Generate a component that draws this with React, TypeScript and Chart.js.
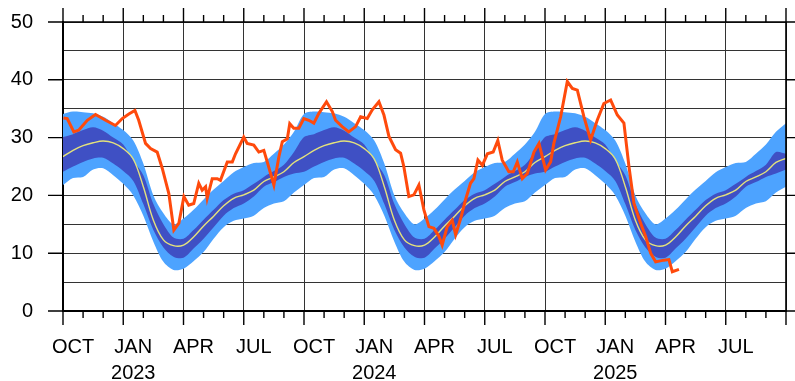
import React, { useEffect, useRef } from "react";
import { Chart, registerables } from "chart.js";

Chart.register(...registerables);

// Climatology for one Oct–Sep year, sampled every half month (months since 1 Oct)
const CLIM_MONTHS = [0, 0.5, 1, 1.5, 2, 2.5, 3, 3.5, 4, 4.5, 5, 5.5, 6, 6.5, 7, 7.5, 8, 8.5, 9, 9.5, 10, 10.5, 11, 11.5];
const OUTER_HI = [34.1, 34.5, 34.4, 34.2, 33.6, 32.5, 31.3, 29.5, 25.5, 20.0, 16.9, 15.0, 16.0, 17.5, 19.3, 21.0, 22.5, 24.0, 24.9, 25.6, 25.8, 27.2, 28.8, 31.0];
const INNER_HI = [30.1, 30.6, 31.3, 31.8, 31.2, 30.0, 28.8, 26.0, 23.5, 18.5, 15.0, 12.7, 12.5, 14.0, 15.8, 17.5, 19.2, 20.3, 20.9, 22.0, 23.2, 24.2, 25.3, 27.5];
const MEDIAN = [26.7, 27.8, 28.6, 29.1, 29.4, 29.1, 28.1, 26.3, 21.5, 15.7, 12.3, 11.3, 11.4, 12.8, 14.7, 16.4, 18.2, 19.5, 20.1, 20.9, 22.4, 23.2, 24.1, 25.7];
const INNER_LO = [24.1, 25.0, 25.8, 26.4, 26.5, 25.5, 24.2, 22.5, 18.5, 14.0, 11.0, 9.4, 9.2, 10.8, 12.5, 14.5, 16.5, 17.8, 18.6, 19.8, 21.5, 22.3, 23.2, 23.8];
const OUTER_LO = [21.8, 23.0, 23.2, 24.5, 24.7, 23.5, 22.0, 20.0, 16.5, 12.0, 8.5, 7.1, 7.3, 8.6, 10.2, 12.5, 14.5, 15.6, 16.0, 16.5, 17.8, 18.6, 19.0, 20.5];
// values at the right end of the chart (1 Oct 2025)
const END_MONTH = 36;
const END_CLIM = { outerHi: 32.5, innerHi: 27.2, median: 26.4, innerLo: 24.5, outerLo: 21.5 };
const YEARS_SHOWN = 3;

// Observed series (months since 1 Oct 2022)
const OBS_MONTH = [
  0.02, 0.21, 0.54, 0.79, 1.21, 1.62, 2.12, 2.61, 2.95, 3.28, 3.58, 3.77, 4.11, 4.36, 4.69, 4.94, 5.27, 5.52, 5.77,
  6.02, 6.26, 6.51, 6.76, 6.93, 7.1, 7.18, 7.43, 7.68, 7.84, 8.18, 8.43, 8.59, 9.0, 9.17, 9.5, 9.75, 10.0, 10.17,
  10.5, 10.75, 10.92, 11.17, 11.29, 11.49, 11.74, 11.99, 12.24, 12.49, 12.74, 13.12, 13.41, 13.57, 13.9, 14.23,
  14.57, 14.82, 15.15, 15.4, 15.73, 15.98, 16.23, 16.56, 16.81, 16.97, 17.22, 17.47, 17.72, 17.97, 18.22, 18.47,
  18.72, 18.88, 19.13, 19.38, 19.55, 19.8, 20.04, 20.29, 20.46, 20.66, 20.88, 21.13, 21.42, 21.65, 21.87, 22.2,
  22.42, 22.62, 22.87, 23.12, 23.45, 23.7, 24.03, 24.28, 24.44, 24.78, 25.11, 25.36, 25.61, 25.94, 26.27, 26.6,
  26.93, 27.27, 27.6, 27.93, 28.18, 28.43, 28.76, 29.01, 29.26, 29.51, 29.92, 30.17, 30.34, 30.67,
];
const OBS_VALUE = [
  33.4, 33.3, 31.0, 31.3, 33.0, 34.0, 33.0, 32.1, 33.3, 34.1, 34.7, 33.0, 29.0, 28.1, 27.5, 24.7, 20.3, 14.0, 15.2,
  19.8, 18.3, 18.6, 22.1, 20.9, 21.5, 19.5, 22.9, 22.9, 22.6, 25.8, 25.8, 27.2, 30.1, 29.0, 28.7, 27.5, 27.8, 25.8,
  21.8, 26.7, 29.3, 29.8, 32.4, 31.6, 31.6, 33.3, 33.0, 32.5, 34.2, 36.2, 34.5, 33.0, 31.9, 31.0,
  31.9, 33.6, 33.3, 34.8, 36.2, 33.9, 30.2, 27.9, 27.3, 25.0, 19.8, 20.1, 21.8, 17.5, 14.6, 14.3,
  12.9, 11.4, 14.6, 15.7, 13.2, 16.0, 19.2, 22.1, 22.9, 26.1, 25.2, 27.2, 27.5, 29.5, 26.1, 24.1,
  24.1, 25.8, 22.9, 23.8, 27.5, 29.0, 24.4, 25.8, 29.0, 33.6, 39.7, 38.5, 38.2, 33.6, 29.6, 33.0,
  35.9, 36.5, 33.9, 32.5, 25.0, 18.6, 15.2, 12.9, 10.0, 8.5, 8.8, 8.9, 6.8, 7.2,
];

const QUARTER_NAMES = ["OCT", "JAN", "APR", "JUL"];
const FIRST_YEAR = 2023;
const Y_MIN = 0;
const Y_MAX = 50;

function climSeries(values: number[], endValue: number) {
  const pts: { x: number; y: number }[] = [];
  for (let k = 0; k < YEARS_SHOWN; k++) {
    CLIM_MONTHS.forEach((m, i) => pts.push({ x: m + 12 * k, y: values[i] }));
  }
  pts.push({ x: END_MONTH, y: endValue });
  return pts;
}

const frameTicks = {
  id: "frameTicks",
  afterDraw(chart: any) {
    const { ctx, chartArea, scales } = chart;
    const { left, right, top, bottom } = chartArea;
    const x = scales.x;
    const y = scales.y;
    ctx.save();
    ctx.strokeStyle = "#000";
    ctx.lineWidth = 1.6;
    ctx.beginPath();
    ctx.moveTo(left, top);
    ctx.lineTo(right, top);
    ctx.moveTo(right, top);
    ctx.lineTo(right, bottom);
    ctx.stroke();
    ctx.lineWidth = 1.4;
    ctx.beginPath();
    for (let m = 0; m <= END_MONTH; m++) {
      const px = x.getPixelForValue(m);
      const len = m % 3 === 0 ? 14 : 7;
      ctx.moveTo(px, bottom);
      ctx.lineTo(px, bottom + len);
      ctx.moveTo(px, top);
      ctx.lineTo(px, top - len);
    }
    for (let v = Y_MIN; v <= Y_MAX; v += 10) {
      const py = y.getPixelForValue(v);
      ctx.moveTo(left - 15, py);
      ctx.lineTo(left, py);
      ctx.moveTo(right, py);
      ctx.lineTo(right + 12, py);
    }
    ctx.stroke();
    ctx.restore();
  },
};

export default function App() {
  const ref = useRef<HTMLCanvasElement | null>(null);

  useEffect(() => {
    if (!ref.current) return;
    const font = { family: "'Liberation Sans', Arial, Helvetica, sans-serif", size: 20 };
    const chart = new Chart(ref.current, {
      type: "line",
      data: {
        datasets: [
          {
            label: "outer lo",
            data: climSeries(OUTER_LO, END_CLIM.outerLo),
            borderWidth: 0,
            pointRadius: 0,
            fill: false,
            tension: 0.3,
            order: 4,
          },
          {
            label: "outer hi",
            data: climSeries(OUTER_HI, END_CLIM.outerHi),
            borderWidth: 0,
            pointRadius: 0,
            fill: "-1",
            backgroundColor: "#4da3ff",
            tension: 0.3,
            order: 4,
          },
          {
            label: "inner lo",
            data: climSeries(INNER_LO, END_CLIM.innerLo),
            borderWidth: 0,
            pointRadius: 0,
            fill: false,
            tension: 0.3,
            order: 3,
          },
          {
            label: "inner hi",
            data: climSeries(INNER_HI, END_CLIM.innerHi),
            borderWidth: 0,
            pointRadius: 0,
            fill: "-1",
            backgroundColor: "#3f50c4",
            tension: 0.3,
            order: 3,
          },
          {
            label: "median",
            data: climSeries(MEDIAN, END_CLIM.median),
            borderColor: "#e4e27c",
            borderWidth: 1.4,
            pointRadius: 0,
            fill: false,
            tension: 0.35,
            order: 2,
          },
          {
            label: "observed",
            data: OBS_MONTH.map((m, i) => ({ x: m, y: OBS_VALUE[i] })),
            borderColor: "#ff4a0c",
            borderWidth: 3,
            pointRadius: 0,
            fill: false,
            tension: 0,
            order: 1,
          },
        ],
      },
      options: {
        responsive: false,
        animation: false,
        events: [],
        layout: { padding: { top: 22, right: 9, left: 0, bottom: 0 } },
        plugins: { legend: { display: false }, tooltip: { enabled: false }, title: { display: false } },
        scales: {
          x: {
            type: "linear",
            min: 0,
            max: END_MONTH,
            afterFit: (s: any) => {
              s.height = 70;
              s.paddingLeft = 0;
              s.paddingRight = 0;
              s.paddingTop = 0;
              s.paddingBottom = 0;
            },
            afterBuildTicks: (s: any) => {
              const t = [];
              for (let v = 0; v <= END_MONTH; v += 3) t.push({ value: v });
              s.ticks = t;
            },
            ticks: {
              autoSkip: false,
              maxRotation: 0,
              minRotation: 0,
              padding: 23,
              labelOffset: 10,
              color: "#000",
              font: { ...font, lineHeight: 1.3 },
              callback: (v: any) => {
                const n = Number(v);
                if (n >= END_MONTH) return "";
                const q = Math.round(n / 3) % 4;
                const name = QUARTER_NAMES[q];
                if (q === 1) return [name, String(FIRST_YEAR + Math.floor(n / 12))];
                return name;
              },
            },
            grid: { color: "#333", lineWidth: 1, drawTicks: false },
            border: { display: true, color: "#000", width: 2 },
          },
          y: {
            min: Y_MIN,
            max: Y_MAX,
            afterFit: (s: any) => {
              s.width = 63;
              s.paddingLeft = 0;
              s.paddingRight = 0;
              s.paddingTop = 0;
              s.paddingBottom = 0;
            },
            ticks: {
              stepSize: 5,
              padding: 30,
              color: "#000",
              font,
              callback: (v: any) => (Number(v) % 10 === 0 ? String(v) : ""),
            },
            grid: { color: "#333", lineWidth: 1, drawTicks: false },
            border: { display: true, color: "#000", width: 2 },
          },
        },
      },
      plugins: [frameTicks],
    });
    return () => chart.destroy();
  }, []);

  return (
    <div style={{ position: "absolute", left: 0, top: 0, width: 795, height: 381, background: "#fff" }}>
      <canvas ref={ref} width={795} height={381} style={{ display: "block" }} />
    </div>
  );
}
